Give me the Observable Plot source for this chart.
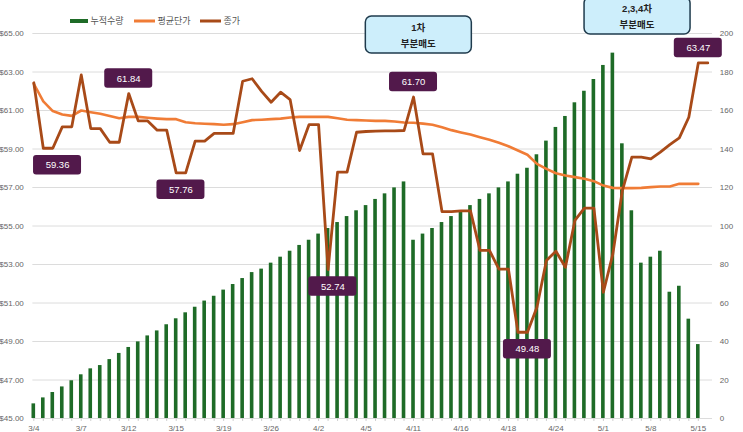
<!DOCTYPE html>
<html>
<head>
<meta charset="utf-8">
<script src="https://cdn.jsdelivr.net/npm/d3@7"></script>
<script src="https://cdn.jsdelivr.net/npm/@observablehq/plot@0.6"></script>
<style>
  html, body { margin: 0; padding: 0; background: #fff; }
  svg { font-family: "Liberation Sans", Arial, "Noto Sans CJK KR", sans-serif; }
</style>
</head>
<body>
<div id="chart"></div>
<script>
// x tick labels (every 5th trading day)
const dates = ["3/4","3/7","3/12","3/15","3/19","3/26","4/2","4/5","4/11","4/16","4/18","4/24","5/1","5/8","5/15"];

// 누적수량 (right axis, 0-200)
const qty = [7.6,10.7,13.5,16.4,19.6,22.7,25.8,27.5,30.6,33.8,36.9,39.8,42.9,45.5,48.7,51.8,54.9,57.8,61.0,63.5,
  66.7,69.6,72.7,75.8,77.6,80.7,83.8,86.9,89.9,92.6,95.8,98.7,101.8,104.9,107.9,110.6,113.8,116.7,119.8,122.9,
  92.6,95.8,98.7,101.8,104.9,107.9,110.6,113.8,116.7,119.8,122.9,126.9,130.0,137.0,144.1,151.2,156.9,164.0,170.0,176.1,
  183.4,189.8,142.7,107.9,80.7,83.8,86.9,65.6,68.7,51.6,38.4];

// 평균단가 (left axis, $)
const avgPrice = [62.39,61.47,60.97,60.79,60.72,61.00,60.91,60.83,60.71,60.60,60.67,60.67,60.62,60.58,60.55,60.55,60.39,60.34,60.31,60.29,
  60.26,60.29,60.39,60.50,60.52,60.55,60.58,60.64,60.67,60.67,60.67,60.67,60.60,60.52,60.50,60.48,60.46,60.46,60.43,60.38,
  60.36,60.32,60.26,60.13,59.98,59.86,59.75,59.61,59.48,59.32,59.14,58.92,58.70,58.23,57.97,57.74,57.62,57.54,57.45,57.33,
  57.10,56.98,56.97,56.97,56.98,57.02,57.05,57.05,57.19,57.19,57.19];

// 종가 (left axis, $)
const close = [62.44,59.04,59.04,60.15,60.15,62.85,60.06,60.06,59.35,59.35,61.88,60.46,60.46,59.98,59.98,57.76,57.76,59.41,59.41,59.81,
  59.81,59.81,62.52,62.65,61.99,61.43,61.95,61.57,58.92,60.27,60.27,52.74,57.80,57.80,59.87,59.91,59.93,59.94,59.94,59.96,
  61.70,58.75,58.75,55.75,55.75,55.79,55.79,53.73,53.73,52.76,52.76,49.48,49.48,50.78,53.21,53.69,52.86,55.29,55.93,55.93,
  51.56,53.55,56.84,58.58,58.58,58.49,58.84,59.23,59.58,60.65,63.47,63.47];

// data labels on 종가
const labelIdx  = [2.5, 10, 15.5, 31.5, 40, 52, 70];
const labelText = ["59.36","61.84","57.76","52.74","61.70","49.48","63.47"];
const labelSide = ["below","above","below","below","above","below","above"];

// callouts
const calloutIdx   = [40.56, 63.6];
const calloutLines = [["1차","부분매도"],["2,3,4차","부분매도"]];
const calloutTop   = [16, -3];

// series names
const seriesNames  = ["누적수량","평균단가","종가"];

const C_BAR = "#1e6b27", C_AVG = "#f07c36", C_CLOSE = "#a84a18", C_LBL = "#52194b";

const toLeft = q => 45 + q / 10; // right-axis quantity -> left-axis units

const bars = qty.map((q, i) => ({i, q}));
const avg = avgPrice.map((v, i) => ({i, v}));
const cls = close.map((v, i) => ({i, v}));
const labels = labelIdx.map((i, k) => ({i, text: labelText[k], side: labelSide[k], v: close[Math.floor(i)]}));
const below = labels.filter(d => d.side === "below");
const above = labels.filter(d => d.side === "above");
const callouts = calloutIdx.map((i, k) => ({i, lines: calloutLines[k], top: calloutTop[k]}));

const yTicks = d3.range(45, 66, 2);

function legendMark() {
  const g = d3.create("svg:g").attr("font-size", 9).attr("fill", "#555");
  const items = [
    {x: 70, w: 18, h: 4, c: C_BAR},
    {x: 134, w: 21, h: 3, c: C_AVG},
    {x: 200, w: 21, h: 3, c: C_CLOSE}
  ];
  items.forEach((it, k) => {
    g.append("rect").attr("x", it.x).attr("y", 21 - it.h / 2).attr("width", it.w).attr("height", it.h).attr("fill", it.c);
    g.append("text").attr("x", it.x + it.w + 2.5).attr("y", 21).attr("dy", "0.35em").attr("text-anchor", "start").text(seriesNames[k]);
  });
  return g.node();
}

function calloutMark(index, scales) {
  const g = d3.create("svg:g");
  callouts.forEach(d => {
    const cx = scales.x(d.i), w = 106, h = 37;
    g.append("rect").attr("x", cx - w / 2).attr("y", d.top).attr("width", w).attr("height", h)
      .attr("rx", 6).attr("fill", "#cdeefb").attr("stroke", "#1f3b4d").attr("stroke-width", 1.5);
    d.lines.forEach((t, k) => {
      g.append("text").attr("x", cx).attr("y", d.top + 12 + k * 16).attr("dy", "0.35em")
        .attr("text-anchor", "middle").attr("font-size", 9.5).attr("font-weight", "bold").attr("fill", "#222").text(t);
    });
  });
  return g.node();
}

const chart = Plot.plot({
  width: 743,
  height: 432,
  marginLeft: 33.3,
  marginRight: 35.7,
  marginTop: 33,
  marginBottom: 14,
  style: {color: "#666", background: "#fff", overflow: "visible"},
  x: {domain: [0, 71], axis: null},
  y: {domain: [45, 65], axis: null},
  marks: [
    Plot.ruleY(yTicks, {x1: -0.1, x2: 71.5, stroke: "#dcdcdc", strokeWidth: 1}),
    Plot.axisY({anchor: "left", ticks: yTicks, tickFormat: d => "$" + d.toFixed(2), tickSize: 0, tickPadding: 10, fontSize: 8, label: null}),
    Plot.axisY({anchor: "right", ticks: yTicks, tickFormat: d => String((d - 45) * 10), tickSize: 0, tickPadding: 12, fontSize: 8, label: null}),
    Plot.axisX({ticks: d3.range(0, 71), tickSize: 3, tickPadding: 4, stroke: "#d0d0d0", fontSize: 8,
      tickFormat: i => i % 5 === 0 ? dates[i / 5] : "", label: null}),
    Plot.rect(bars, {x1: d => d.i - 0.19, x2: d => d.i + 0.19, y1: 45, y2: d => toLeft(d.q), fill: C_BAR}),
    Plot.line(avg, {x: "i", y: "v", stroke: C_AVG, strokeWidth: 2.6, curve: "linear"}),
    Plot.line(cls, {x: "i", y: "v", stroke: C_CLOSE, strokeWidth: 2.8, curve: "linear"}),
    Plot.rect(below, {x1: "i", x2: "i", y1: "v", y2: "v", insetLeft: -24, insetRight: -24, insetTop: 7.25, insetBottom: -26.75, rx: 3, fill: C_LBL}),
    Plot.rect(above, {x1: "i", x2: "i", y1: "v", y2: "v", insetLeft: -24, insetRight: -24, insetTop: -24.75, insetBottom: 5.25, rx: 3, fill: C_LBL}),
    Plot.text(below, {x: "i", y: "v", text: "text", dy: 17, fill: "#fff", fontSize: 9.5}),
    Plot.text(above, {x: "i", y: "v", text: "text", dy: -15, fill: "#fff", fontSize: 9.5}),
    calloutMark,
    legendMark
  ]
});
document.getElementById("chart").appendChild(chart);
</script>
</body>
</html>
